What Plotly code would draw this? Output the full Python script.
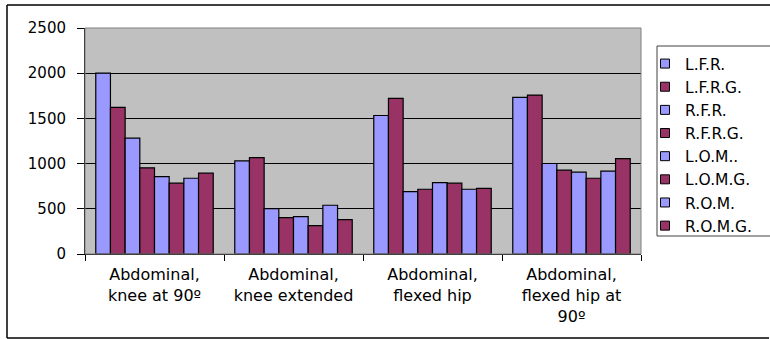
import plotly.graph_objects as go

categories = ["Abdominal,<br>knee at 90º", "Abdominal,<br>knee extended",
              "Abdominal,<br>flexed hip", "Abdominal,<br>flexed hip at<br>90º"]
series_names = ["L.F.R.", "L.F.R.G.", "R.F.R.", "R.F.R.G.", "L.O.M..", "L.O.M.G.", "R.O.M.", "R.O.M.G."]
lfr = [2000, 1030, 1532, 1732]
lfrg = [1621, 1067, 1721, 1758]
rfr = [1281, 502, 690, 1001]
rfrg = [953, 402, 716, 927]
lom = [857, 414, 790, 905]
lomg = [783, 314, 783, 838]
rom = [838, 539, 716, 916]
romg = [894, 380, 727, 1056]
series_values = [lfr, lfrg, rfr, rfrg, lom, lomg, rom, romg]
colors = ["#9999FF", "#993366"] * 4
y_ticks = [0, 500, 1000, 1500, 2000, 2500]

fig = go.Figure()
for i, (name, vals) in enumerate(zip(series_names, series_values)):
    fig.add_trace(go.Bar(
        x=categories, y=vals, name=name, legendgroup=name, showlegend=False,
        marker=dict(color=colors[i], line=dict(color="black", width=1.2)),
    ))
# legend entries with small square swatches (Excel style)
for i, name in enumerate(series_names):
    fig.add_trace(go.Scatter(
        x=[None], y=[None], mode="markers", name=name, legendgroup=name,
        marker=dict(symbol="square", size=9, color=colors[i],
                    line=dict(color="black", width=1)),
    ))

FONT = "DejaVu Sans, Verdana, sans-serif"
L, R, T, B = 85, 129, 28, 85
W, H = 770, 339
pw, ph = W - L - R, H - T - B

def px2x(px):
    return (px - L) / pw

def px2y(py):
    return (H - B - py) / ph

border = dict(color="black", width=1.5)
shapes = [
    dict(type="rect", xref="paper", yref="paper", x0=0, x1=1, y0=0, y1=1,
         line=dict(color="#808080", width=1), layer="above"),
    dict(type="line", xref="paper", yref="paper",
         x0=px2x(7), x1=px2x(7), y0=px2y(338), y1=px2y(5), line=border),
    dict(type="line", xref="paper", yref="paper",
         x0=px2x(7), x1=px2x(769), y0=px2y(338), y1=px2y(338), line=border),
    dict(type="rect", xref="paper", yref="paper",
         x0=px2x(657), x1=px2x(775), y0=px2y(236), y1=px2y(46),
         fillcolor="white", line=dict(color="#404040", width=1)),
]
# top edge of the outer frame, drawn in short pieces
edges = [7, 100, 200, 300, 400, 500, 600, 700, 770]
for a, b in zip(edges[:-1], edges[1:]):
    shapes.append(dict(type="line", xref="paper", yref="paper",
                       x0=px2x(a), x1=px2x(b), y0=px2y(5), y1=px2y(5),
                       line=border))

fig.update_layout(
    width=W, height=H,
    margin=dict(l=L, r=R, t=T, b=B, pad=0, autoexpand=False),
    paper_bgcolor="white", plot_bgcolor="#C0C0C0",
    barmode="group", bargap=0.155, bargroupgap=0,
    font=dict(family=FONT, size=15, color="black"),
    showlegend=True,
    legend=dict(
        x=px2x(645), y=px2y(47), xanchor="left", yanchor="top",
        bgcolor="rgba(0,0,0,0)", borderwidth=0,
        font=dict(family=FONT, size=15.5), tracegroupgap=0,
        itemwidth=30,
    ),
    xaxis=dict(
        tickson="boundaries", ticks="outside", ticklen=6, tickcolor="black",
        showline=True, linecolor="black", linewidth=1, automargin=False,
        tickfont=dict(family=FONT, size=16), showgrid=False,
        ticklabelstandoff=6,
    ),
    yaxis=dict(
        range=[0, 2500], tickvals=y_ticks, ticks="outside", ticklen=7,
        tickcolor="black", showline=True, linecolor="black", linewidth=1,
        showgrid=True, gridcolor="black", gridwidth=1, zeroline=False,
        automargin=False,
        tickfont=dict(family=FONT, size=15), ticklabelstandoff=8,
    ),
    shapes=shapes,
)

fig.write_html("out.html", config={"displayModeBar": False},
               post_script="document.body.style.margin='0';")
